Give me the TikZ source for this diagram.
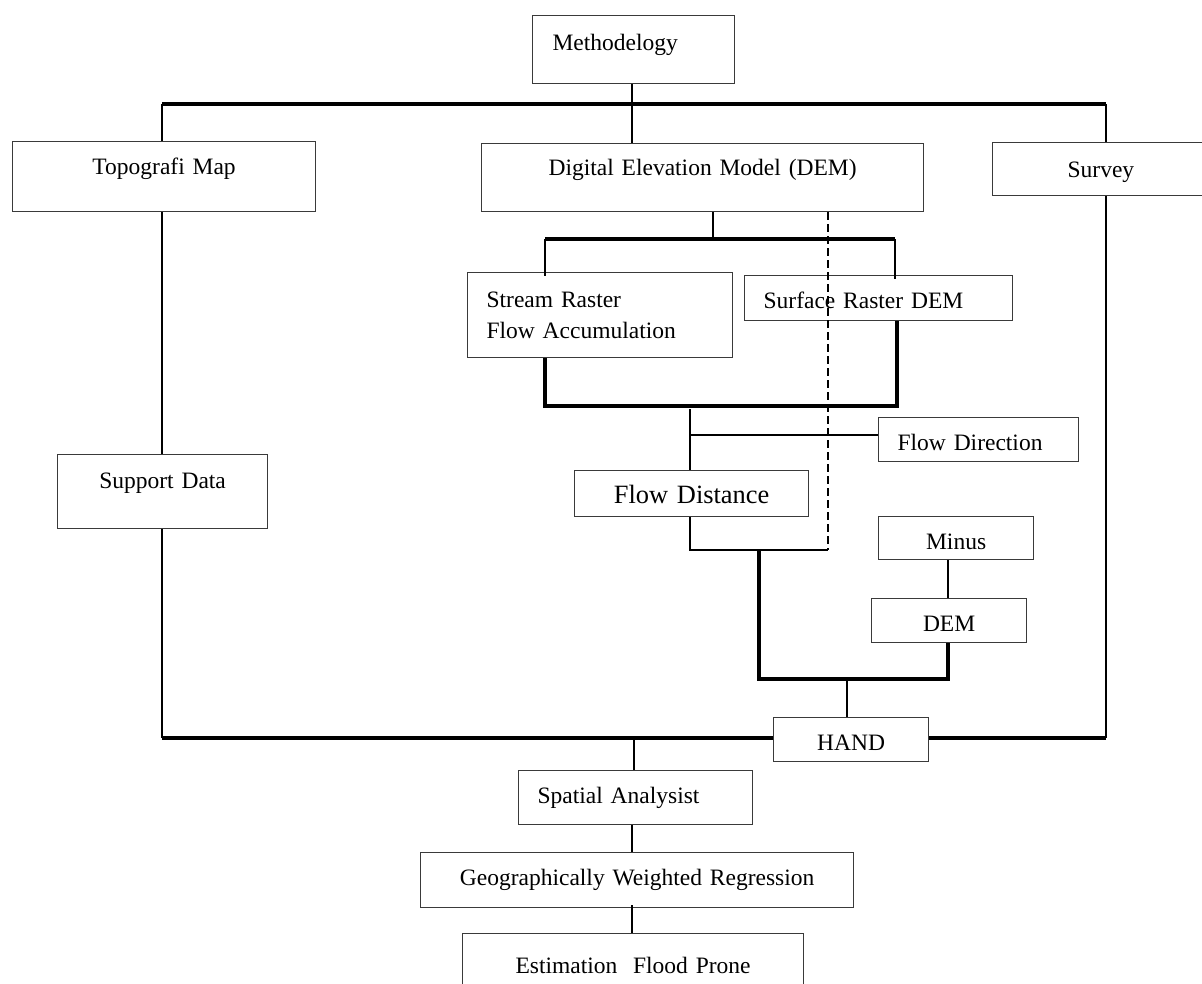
\documentclass[tikz,border=0pt]{standalone}
\usepackage{fontspec}
\setmainfont{Liberation Serif}
\newcommand\mainf{\fontsize{23.5}{31}\selectfont}
\newcommand\bigf{\fontsize{26.4}{32}\selectfont}
\definecolor{boxgray}{HTML}{3A3A3A}
\tikzset{
  bx/.style={draw=boxgray, line width=1.2pt, inner sep=0pt, anchor=north west, font=\mainf},
  lnA/.style={line width=3.2pt, line join=miter},
  lnB/.style={line width=2.3pt},
  lnC/.style={line width=1.9pt},
  dsh/.style={line width=1.9pt, dash pattern=on 8pt off 4pt}
}
\begin{document}
\begin{tikzpicture}[x=1pt,y=-1pt]
\useasboundingbox (0,0) rectangle (1202,983);
\clip (0,0) rectangle (1202,983);
% boxes
\node[bx, align=left, inner xsep=20pt, text width=162pt, text height=35pt, text depth=33pt] (meth) at (532,15) {Methodelogy};
\node[bx, align=center, text width=303pt, text height=33pt, text depth=37pt] (topo) at (12,141) {Topografi Map};
\node[bx, align=center, text width=442pt, text height=32pt, text depth=36pt] (dem) at (481,143) {Digital Elevation Model (DEM)};
\node[bx, align=left, text width=220pt, text height=35pt, text depth=18pt] (survey) at (992,142) {\hspace*{75pt}Survey};
\node[bx, align=left, inner xsep=19pt, text width=227pt, text height=35pt, text depth=50pt] (stream) at (467,272) {Stream Raster\\Flow Accumulation};
\node[bx, align=left, inner xsep=19pt, text width=230pt, text height=33pt, text depth=12pt] (surface) at (744,275) {Surface Raster DEM};
\node[bx, align=left, inner xsep=19pt, text width=162pt, text height=33pt, text depth=11pt] (flowdir) at (878,417) {Flow Direction};
\node[bx, align=center, font=\bigf, text width=234pt, text height=33pt, text depth=13pt] (flowdist) at (574,470) {Flow Distance};
\node[bx, align=center, text width=155pt, text height=33pt, text depth=10pt] (minus) at (878,516) {Minus};
\node[bx, align=center, text width=155pt, text height=33pt, text depth=11pt] (dem2) at (871,598) {DEM};
\node[bx, align=center, text width=210pt, text height=34pt, text depth=40pt] (support) at (57,454) {Support Data};
\node[bx, align=center, text width=155pt, text height=33pt, text depth=11pt] (hand) at (773,717) {HAND};
\node[bx, align=left, inner xsep=19pt, text width=196pt, text height=33pt, text depth=21pt] (spatial) at (518,770) {Spatial Analysist};
\node[bx, align=center, text width=433pt, text height=33pt, text depth=22pt] (gwr) at (420,852) {Geographically Weighted Regression};
\node[bx, align=center, text width=341pt, text height=40pt, text depth=30pt] (est) at (462,933) {Estimation~ Flood Prone};
% junction coordinates
\coordinate (tl) at (162,104);
\coordinate (tr) at (1106,104);
\coordinate (bl) at (162,738);
\coordinate (br) at (1106,738);
\coordinate (db) at (713,239);
\coordinate (dbl) at (545,239);
\coordinate (dbr) at (895,239);
\coordinate (lbl) at (545,406);
\coordinate (lbr) at (897,406);
\coordinate (fj) at (690,435);
\coordinate (fjt) at (690,409);
\coordinate (dj) at (828,550);
\coordinate (hj1) at (759,550);
\coordinate (hj2) at (759,679);
\coordinate (hj3) at (948,679);
\coordinate (hj4) at (847,679);
\coordinate (sj) at (634,738);
\coordinate (mx) at (632,0);
% top distribution
\draw[lnA] (tl) -- (tr);
\draw[lnB] (tl) -- (tl |- topo.north);
\draw[lnB] (tr) -- (tr |- survey.north);
\draw[lnB] (meth.south -| mx) -- (dem.north -| mx);
% left branch
\draw[lnC] (topo.south -| tl) -- (support.north -| tl);
\draw[lnC] (support.south -| bl) -- (bl);
\draw[lnA] (bl) -- (hand.west |- bl);
% right branch
\draw[lnB] (survey.south -| br) -- (br);
\draw[lnA] (br) -- (hand.east |- br);
% DEM bracket
\draw[lnC] (dem.south -| db) -- (db);
\draw[lnA] (dbl) -- (dbr);
\draw[lnB] (dbl) -- ([yshift=-4pt]dbl |- stream.north);
\draw[lnB] (dbr) -- ([yshift=-4pt]dbr |- surface.north);
% lower bracket
\draw[lnA] (stream.south -| lbl) -- (lbl) -- (lbr) -- (lbr |- surface.south);
% flow
\draw[lnC] (fjt) -- (flowdist.north -| fjt);
\draw[lnC] (fj) -- (fj -| flowdir.west);
% dashed
\draw[dsh] (dem.south -| dj) -- (dj);
\draw[lnC] (flowdist.south -| fj) -- (fj |- dj) -- (dj);
% to HAND
\draw[lnA] (hj1) -- (hj2) -- (hj3) -- (dem2.south -| hj3);
\draw[lnB] (minus.south -| hj3) -- (dem2.north -| hj3);
\draw[lnC] (hj4) -- (hand.north -| hj4);
% bottom chain
\draw[lnC] (sj) -- (spatial.north -| sj);
\draw[lnC] (spatial.south -| mx) -- (gwr.north -| mx);
\draw[lnC] ([yshift=3pt]gwr.south -| mx) -- (est.north -| mx);
\end{tikzpicture}
\end{document}
